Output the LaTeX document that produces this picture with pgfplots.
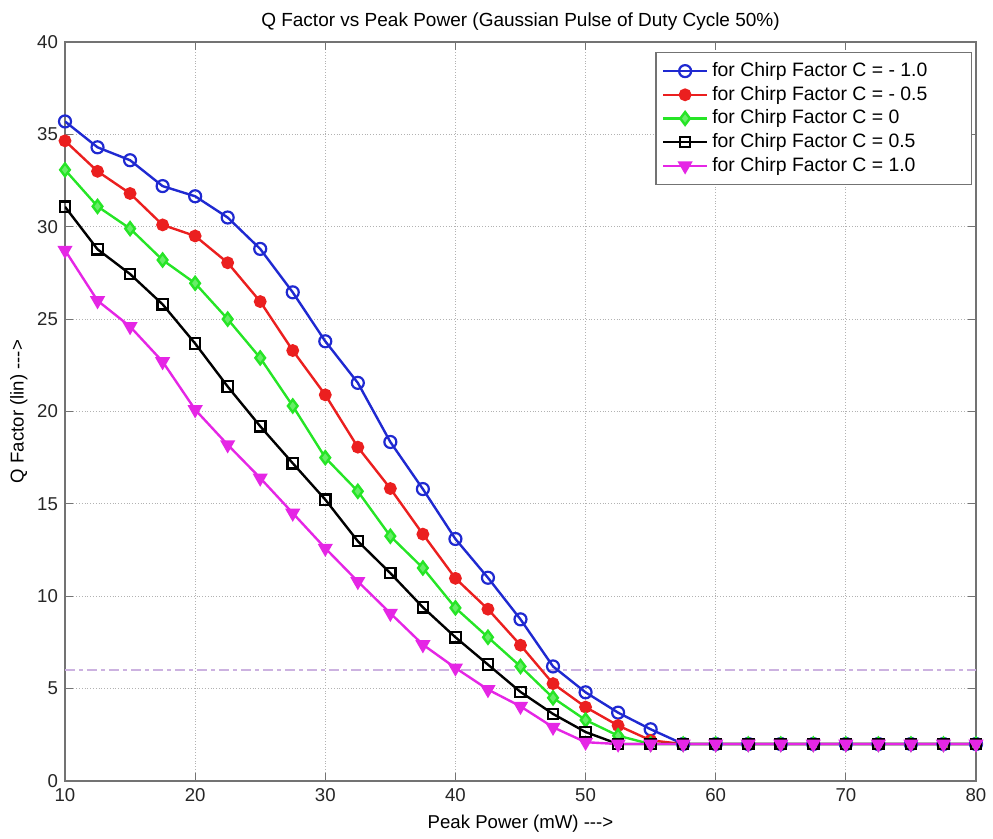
\documentclass[border=0pt]{standalone}
\usepackage{fontspec}
\setmainfont{Liberation Sans}
\usepackage{pgfplots}
\usepackage{pgfplotstable}
\pgfplotsset{compat=1.18}

\definecolor{cblue}{rgb}{0.12,0.16,0.82}
\definecolor{cred}{rgb}{0.92,0.12,0.12}
\definecolor{cgreen}{rgb}{0.15,0.90,0.15}
\definecolor{cmag}{rgb}{0.90,0.15,0.90}
\definecolor{climit}{rgb}{0.80,0.70,0.88}

% legend entries keep some room on their right
\newcommand\lgd[1]{#1\hspace*{17pt}}

% Q factor for each chirp factor C versus peak power (mW)
\pgfplotstableread{
x     cmone  cmhalf czero  cphalf cpone
10    35.70  34.65  33.08  31.08  28.73
12.5  34.30  33.00  31.10  28.78  26.00
15    33.60  31.80  29.90  27.44  24.60
17.5  32.20  30.10  28.20  25.80  22.70
20    31.65  29.50  26.94  23.68  20.10
22.5  30.50  28.05  25.00  21.35  18.20
25    28.80  25.95  22.90  19.20  16.40
27.5  26.45  23.30  20.30  17.20  14.50
30    23.80  20.90  17.50  15.23  12.60
32.5  21.55  18.07  15.68  12.98  10.80
35    18.35  15.83  13.25  11.25   9.08
37.5  15.80  13.36  11.53   9.40   7.38
40    13.10  10.97   9.37   7.78   6.12
42.5  11.00   9.30   7.78   6.30   4.95
45     8.75   7.35   6.20   4.82   4.04
47.5   6.20   5.27   4.50   3.63   2.91
50     4.80   4.00   3.30   2.65   2.10
52.5   3.70   3.00   2.45   2.00   2.00
55     2.80   2.20   2.00   2.00   2.00
57.5   2.00   2.00   2.00   2.00   2.00
60     2.00   2.00   2.00   2.00   2.00
62.5   2.00   2.00   2.00   2.00   2.00
65     2.00   2.00   2.00   2.00   2.00
67.5   2.00   2.00   2.00   2.00   2.00
70     2.00   2.00   2.00   2.00   2.00
72.5   2.00   2.00   2.00   2.00   2.00
75     2.00   2.00   2.00   2.00   2.00
77.5   2.00   2.00   2.00   2.00   2.00
80     2.00   2.00   2.00   2.00   2.00
}\qdata

\begin{document}
\begin{tikzpicture}
\useasboundingbox (-32.5pt,-29pt) rectangle (464pt,390.5pt);
\begin{axis}[
  at={(0,0)}, anchor=south west,
  scale only axis,
  width=455.5pt, height=369.5pt,
  xmin=10, xmax=80, ymin=0, ymax=40,
  xtick={10,20,...,80}, ytick={0,5,...,40},
  /pgf/number format/assume math mode=true,
  tick label style={font=\fontsize{9.3}{10}\selectfont, text=black!85},
  label style={font=\fontsize{9.3}{10}\selectfont},
  title style={font=\fontsize{9.5}{11}\selectfont, yshift=-4pt},
  title={Q Factor vs Peak Power (Gaussian Pulse of Duty Cycle 50\%)},
  xlabel={Peak Power (mW) -{}-{}->},
  ylabel={Q Factor (lin) -{}-{}->},
  xlabel style={yshift=0pt},
  ylabel style={yshift=-2pt},
  axis line style={black!55, line width=0.7pt},
  major tick style={black!55, line width=0.6pt},
  major tick length=4pt,
  grid=major,
  major grid style={black!30, densely dotted, line width=0.5pt},
  legend style={at={(1,1)}, anchor=north east, xshift=-2pt, yshift=-5pt,
    draw=black!55, line width=0.6pt, fill=white,
    font=\fontsize{9.7}{10}\selectfont,
    row sep=-0.7pt, inner xsep=3pt, inner ysep=3pt},
  legend cell align=left,
  legend image code/.code={
    \draw[mark repeat=2,mark phase=2] plot coordinates {(0pt,0pt) (11pt,0pt) (22pt,0pt)};},
  every axis plot/.append style={line width=1.2pt},
]
\addplot[color=climit, line width=0.8pt, dash pattern=on 5pt off 2pt on 2pt off 2pt, forget plot]
  coordinates {(10,6) (80,6)};
\addplot[color=cblue, mark=o, mark size=3pt, mark options={line width=1.1pt}]
  table[x=x, y=cmone] {\qdata};
\addlegendentry{\lgd{for Chirp Factor C = - 1.0}}
\addplot[color=cred, mark=*, mark size=2.6pt]
  table[x=x, y=cmhalf] {\qdata};
\addlegendentry{\lgd{for Chirp Factor C = - 0.5}}
\addplot[color=cgreen, mark=diamond*, mark size=3.2pt, mark options={fill=cgreen!70}]
  table[x=x, y=czero] {\qdata};
\addlegendentry{\lgd{for Chirp Factor C = 0}}
\addplot[color=black, mark=square, mark size=2.6pt, mark options={line width=1.1pt}]
  table[x=x, y=cphalf] {\qdata};
\addlegendentry{\lgd{for Chirp Factor C = 0.5}}
\addplot[color=cmag, mark=triangle*, mark size=3.2pt, mark options={rotate=180}]
  table[x=x, y=cpone] {\qdata};
\addlegendentry{\lgd{for Chirp Factor C = 1.0}}
\end{axis}
\end{tikzpicture}
\end{document}
